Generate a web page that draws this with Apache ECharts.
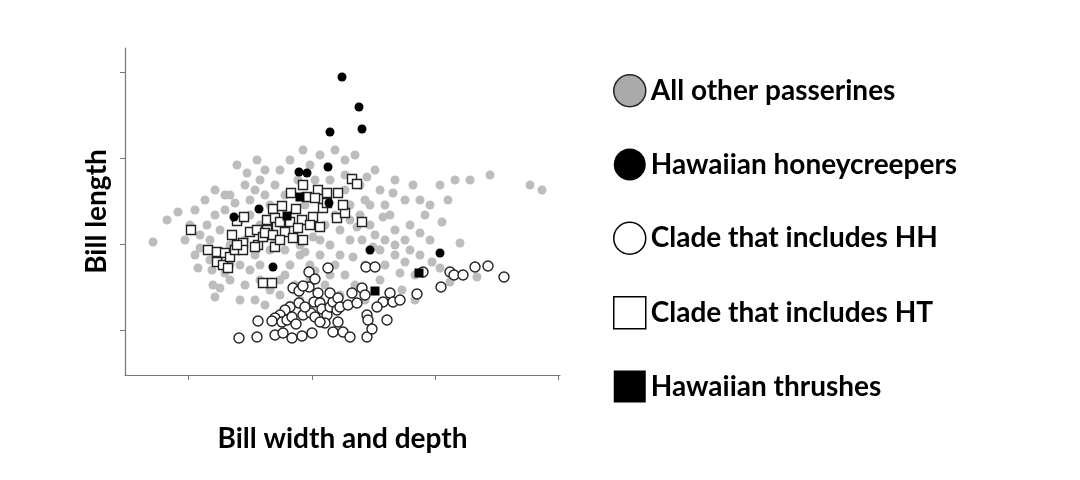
<!DOCTYPE html>
<html><head><meta charset="utf-8">
<script src="https://cdn.jsdelivr.net/npm/echarts@6/dist/echarts.min.js"></script>
<style>html,body{margin:0;background:#fff}#c{width:1080px;height:480px}</style>
</head><body><div id="c"></div>
<script>
const seriesNames = ['All other passerines','Hawaiian honeycreepers','Clade that includes HH','Clade that includes HT','Hawaiian thrushes'];
const xTicks = [6.3, 18.7, 31, 43.3];
const yTicks = [4.5, 13.1, 21.7, 30.3];
const otherPasserines = [[2.8,13.3],[5.3,16.3],[7.0,16.5],[6.5,15.0],[8.0,17.5],[9.0,18.5],[9.0,16.0],[9.5,14.5],[7.5,12.7],[8.7,10.5],[9.5,8.7],[8.8,9.0],[7.0,12.0],[10.5,18.0],[11.2,21.0],[12.0,19.0],[12.5,17.5],[13.5,19.5],[14.0,18.0],[15.0,19.0],[15.5,20.5],[14.0,20.5],[16.5,21.5],[17.3,19.5],[18.5,21.0],[19.5,22.0],[21.0,22.5],[22.0,21.5],[23.0,22.0],[23.5,19.0],[22.0,20.0],[25.0,20.5],[25.5,18.5],[24.5,17.0],[26.0,17.0],[27.0,19.5],[28.0,17.5],[27.0,14.5],[28.0,13.5],[28.5,15.0],[29.5,17.5],[30.0,16.0],[30.5,17.0],[31.5,19.0],[33.0,19.5],[34.5,19.5],[36.5,20.0],[40.5,19.0],[41.7,18.5],[32.3,17.5],[31.7,15.3],[33.5,13.2],[30.5,13.5],[30.7,11.3],[29.5,12.0],[28.0,11.3],[27.0,12.0],[26.0,11.0],[27.7,8.5],[32.5,9.3],[35.2,9.8],[26.5,16.0],[24.5,15.0],[23.7,13.5],[22.5,13.5],[21.5,14.5],[20.5,13.0],[19.5,12.0],[18.5,11.0],[17.5,12.0],[16.5,11.0],[15.5,9.5],[14.5,8.5],[13.5,9.5],[12.5,10.5],[11.5,11.0],[10.5,9.5],[11.5,7.5],[13.0,7.5],[12.0,13.5],[13.0,12.0],[14.5,12.5],[16.0,12.5],[17.5,13.0],[19.5,13.5],[21.0,11.0],[22.0,10.0],[23.0,9.0],[24.0,11.0],[25.5,9.5],[26.5,7.7],[21.5,8.0],[20.0,9.0],[18.5,9.5],[17.0,9.0],[15.5,8.0],[14.0,7.0],[10.0,18.0],[10.5,13.0],[7.5,14.0],[6.0,13.5],[12.5,16.0],[13.5,15.0],[22.5,17.0],[23.5,16.0],[25.0,14.0],[26.0,13.5],[29.0,10.0],[21.5,12.0],[20.0,15.0],[18.0,17.0],[16.0,18.0],[14.5,17.0],[13.0,18.5],[11.5,15.5],[9.5,12.0],[8.5,13.5],[10.5,11.0],[22.0,18.5],[20.5,19.5],[19.0,19.5],[17.0,16.5],[24.0,17.5],[25.5,12.5],[27.0,13.0],[28.5,12.5],[31.5,10.7],[29.0,7.5],[24.0,7.5],[17.5,7.5],[19.5,7.5],[13.5,11.0],[8.5,11.5],[7.3,10.7],[4.2,15.5],[8.2,15.0],[10.0,16.5],[11.0,17.2],[12.2,20.2],[15.0,13.5],[16.0,10.0],[18.0,12.3],[19.0,10.4],[20.5,10.0],[22.8,11.8],[23.2,14.8],[24.8,12.8],[25.8,15.8],[26.8,18.2],[21.0,16.0],[18.8,13.8],[12.0,9.0],[10.0,10.2],[9.0,7.8],[16.5,7.0],[22.5,15.5],[27.5,10.2],[29.5,14.2],[28.8,19.0],[24.2,19.8],[17.8,22.5],[13.2,21.5]];
const honeycreepers = [[21.7,29.8],[23.4,26.8],[23.7,24.6],[20.5,24.3],[20.3,20.8],[17.4,20.3],[18.2,20.2],[10.9,15.8],[13.4,16.6],[20.4,17.2],[24.5,12.5],[14.8,10.8],[31.5,12.2]];
const cladeHH = [[18.4,10.3],[19.0,9.6],[16.8,8.7],[17.4,8.4],[18.4,8.8],[17.8,8.9],[19.3,8.2],[18.9,7.3],[19.5,7.2],[17.4,7.2],[16.5,6.8],[16.0,6.5],[15.5,6.0],[15.0,5.7],[14.7,5.4],[13.3,5.4],[15.7,5.3],[16.2,5.5],[16.7,5.8],[17.1,5.1],[17.8,6.0],[18.6,6.2],[19.0,5.8],[19.7,6.6],[20.2,6.0],[20.5,6.8],[20.8,7.3],[20.5,8.2],[21.3,7.7],[21.2,6.5],[21.5,6.8],[22.3,7.0],[23.2,7.2],[22.7,8.2],[23.7,8.7],[24.0,8.0],[24.2,6.0],[24.3,5.5],[26.2,5.5],[26.5,8.2],[25.8,7.3],[26.8,7.3],[27.5,7.5],[29.2,8.1],[25.2,6.8],[20.0,5.2],[20.8,4.3],[21.8,4.3],[22.5,3.8],[24.2,3.8],[24.7,4.6],[18.7,4.2],[17.7,3.9],[16.7,3.7],[15.0,4.0],[13.2,3.8],[11.4,3.7],[15.8,4.2],[21.3,5.3],[18.0,6.8],[19.5,5.3],[29.8,10.3],[32.5,10.3],[32.9,10.0],[33.8,10.0],[35.0,10.8],[36.3,10.9],[37.9,9.8],[31.6,8.8],[20.3,10.7],[24.1,10.8],[25.0,10.8]];
const cladeHT = [[6.6,14.5],[11.2,15.4],[11.9,15.8],[10.7,14.0],[8.3,12.5],[9.2,12.3],[10.0,12.2],[9.2,11.3],[9.8,11.0],[10.3,10.7],[10.5,11.8],[11.0,12.5],[11.8,13.2],[11.8,12.5],[11.2,13.0],[12.5,14.3],[13.2,14.5],[13.3,13.0],[13.0,12.8],[13.8,13.8],[14.3,14.8],[14.2,15.5],[17.8,19.0],[16.6,18.2],[22.7,19.6],[23.2,19.1],[19.3,18.5],[20.2,18.2],[21.3,18.2],[18.2,17.8],[19.0,17.7],[17.1,16.6],[14.8,16.6],[15.7,16.9],[15.0,15.7],[14.2,14.5],[14.0,14.2],[15.5,15.3],[16.5,15.3],[17.7,15.5],[18.8,15.8],[19.8,16.7],[21.2,15.7],[22.0,16.2],[21.8,17.0],[20.2,17.2],[19.5,14.8],[18.5,15.0],[17.3,14.7],[16.0,14.3],[14.8,14.0],[16.8,13.7],[17.8,13.5],[15.0,12.8],[23.7,15.3],[15.5,13.5],[13.8,9.2],[14.7,9.2]];
const thrushes = [[29.4,10.2],[25.0,8.4],[16.2,15.9],[17.5,17.8]];

const chart = echarts.init(document.getElementById('c'));
const font = 'Lato, "DejaVu Sans", sans-serif';
const axisCommon = {
  axisLine:{show:true,lineStyle:{color:'#777',width:1.2}},
  axisLabel:{show:false}, splitLine:{show:false},
  nameTextStyle:{fontFamily:font,fontWeight:'bold',fontSize:28,color:'#000'},
  nameLocation:'middle'
};
chart.setOption({
  animation:false,
  grid:{left:125,right:520,top:48,bottom:105},
  xAxis:Object.assign({},axisCommon,{type:'value',min:0,max:43.5,name:'Bill width and depth',nameGap:50,
    axisTick:{show:true,length:5,lineStyle:{color:'#777'},customValues:xTicks}}),
  yAxis:Object.assign({},axisCommon,{type:'value',min:0,max:32.7,name:'Bill length',nameGap:14,
    axisTick:{show:true,length:5,lineStyle:{color:'#777'},customValues:yTicks}}),
  legend:{orient:'vertical',left:608,top:69,itemWidth:32,itemHeight:32,itemGap:41,
    textStyle:{fontFamily:font,fontWeight:'bold',fontSize:28,color:'#000'},
    data:[
      {name:seriesNames[0],icon:'circle',itemStyle:{color:'#aaa',borderColor:'#222',borderWidth:1.5}},
      {name:seriesNames[1],icon:'circle',itemStyle:{color:'#000'}},
      {name:seriesNames[2],icon:'circle',itemStyle:{color:'#fff',borderColor:'#000',borderWidth:1.5}},
      {name:seriesNames[3],icon:'rect',itemStyle:{color:'#fff',borderColor:'#000',borderWidth:1.5}},
      {name:seriesNames[4],icon:'rect',itemStyle:{color:'#000'}}
    ]},
  series:[
    {name:seriesNames[0],type:'scatter',data:otherPasserines,symbol:'circle',symbolSize:9,itemStyle:{color:'#bdbdbd',opacity:1}},
    {name:seriesNames[2],type:'scatter',data:cladeHH,symbol:'circle',symbolSize:10,itemStyle:{color:'#fff',borderColor:'#222',borderWidth:1.4,opacity:1}},
    {name:seriesNames[3],type:'scatter',data:cladeHT,symbol:'rect',symbolSize:9,itemStyle:{color:'#fff',borderColor:'#222',borderWidth:1.4,opacity:1}},
    {name:seriesNames[1],type:'scatter',data:honeycreepers,symbol:'circle',symbolSize:9,itemStyle:{color:'#000',opacity:1}},
    {name:seriesNames[4],type:'scatter',data:thrushes,symbol:'rect',symbolSize:9,itemStyle:{color:'#000',opacity:1}}
  ]
});
</script></body></html>
